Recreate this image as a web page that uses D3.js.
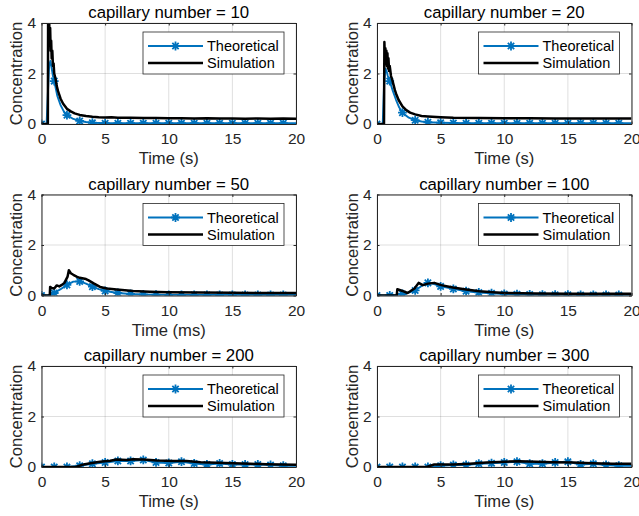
<!DOCTYPE html>
<html>
<head>
<meta charset="utf-8">
<script src="https://cdn.jsdelivr.net/npm/d3@7"></script>
<style>
  html, body { margin: 0; padding: 0; background: #ffffff; }
  svg { display: block; }
  text { font-family: "Liberation Sans", Arial, Helvetica, sans-serif; }
</style>
</head>
<body>
<svg id="chart" width="639" height="516"></svg>
<script>
// ---------------- DATA ----------------
const capillaryNumbers = [10, 20, 50, 100, 200, 300];
const xAxisLabels = ["Time (s)", "Time (s)", "Time (ms)", "Time (s)", "Time (s)", "Time (s)"];
const yAxisLabel = "Concentration";
const xTicks = [0, 5, 10, 15, 20];
const yTicks = [0, 2, 4];
const seriesNames = ["Theoretical", "Simulation"];
const markerTimes = [0,1,2,3,4,5,6,7,8,9,10,11,12,13,14,15,16,17,18,19];

// Theoretical curves [time, concentration]
const theo10 = [[0,0],[0.4,0],[0.5,1.2],[0.6,2.3],[0.7,2.5],[0.8,2.2],[0.9,1.9],[1,1.7],[1.25,1.1],[1.5,0.75],[1.75,0.5],[2,0.35],[2.5,0.2],[3,0.12],[3.5,0.08],[4,0.05],[5,0.03],[6,0.03],[7,0.03],[8,0.03],[9,0.03],[10,0.03],[11,0.03],[12,0.03],[13,0.03],[14,0.03],[15,0.03],[16,0.03],[17,0.03],[18,0.03],[19,0.03],[20,0.03]];
const theo20 = [[0,0],[0.45,0],[0.55,1.5],[0.65,2.2],[0.75,2.1],[0.85,1.9],[1,1.7],[1.25,1.3],[1.5,0.95],[1.75,0.65],[2,0.45],[2.5,0.25],[3,0.15],[3.5,0.1],[4,0.07],[5,0.05],[6,0.04],[7,0.03],[8,0.03],[9,0.03],[10,0.03],[11,0.03],[12,0.03],[13,0.03],[14,0.03],[15,0.03],[16,0.03],[17,0.03],[18,0.03],[19,0.03],[20,0.03]];
const theo50 = [[0,0],[0.5,0],[1,0.1],[1.5,0.25],[2,0.42],[2.5,0.55],[3,0.56],[3.5,0.47],[4,0.35],[4.5,0.25],[5,0.18],[6,0.1],[7,0.06],[8,0.04],[9,0.03],[10,0.02],[11,0.02],[12,0.02],[13,0.02],[14,0.02],[15,0.02],[16,0.02],[17,0.02],[18,0.02],[19,0.02],[20,0.02]];
const theo100 = [[0,0],[1,0],[1.5,0.02],[2,0.06],[2.5,0.12],[3,0.2],[3.5,0.38],[4,0.5],[4.5,0.45],[5,0.36],[6,0.26],[7,0.17],[8,0.12],[9,0.09],[10,0.06],[11,0.05],[12,0.04],[13,0.03],[14,0.03],[15,0.03],[16,0.02],[17,0.02],[18,0.02],[19,0.02],[20,0.02]];
const theo200 = [[0,0],[1,0],[2,0],[3,0.05],[4,0.13],[5,0.18],[6,0.24],[7,0.24],[8,0.28],[9,0.18],[10,0.16],[11,0.21],[12,0.14],[13,0.1],[14,0.14],[15,0.1],[16,0.1],[17,0.1],[18,0.08],[19,0.05],[20,0.05]];
const theo300 = [[0,0],[1,0],[2,0],[3,0],[4,0],[5,0.05],[6,0.08],[7,0.08],[8,0.13],[9,0.15],[10,0.18],[11,0.21],[12,0.13],[13,0.13],[14,0.18],[15,0.21],[16,0.1],[17,0.13],[18,0.08],[19,0.05],[20,0.05]];

// Simulation curves [time, concentration]
const sim10 = [[0,0],[0.5,0],[0.52,4.3],[0.56,3.6],[0.6,4.2],[0.64,3.2],[0.68,3.8],[0.72,2.9],[0.76,3.3],[0.8,2.6],[0.85,2.9],[0.9,2.3],[0.95,2.4],[1,2.0],[1.1,1.8],[1.2,1.5],[1.3,1.3],[1.4,1.15],[1.5,1.0],[1.7,0.8],[2,0.6],[2.3,0.5],[2.6,0.42],[3,0.36],[3.5,0.32],[4,0.29],[4.5,0.27],[5,0.26],[5.5,0.27],[6,0.25],[7,0.25],[8,0.24],[9,0.24],[10,0.23],[11,0.23],[12,0.22],[13,0.23],[14,0.22],[15,0.22],[16,0.21],[17,0.22],[18,0.21],[19,0.22],[20,0.21]];
const sim20 = [[0,0],[0.55,0],[0.58,3.25],[0.62,2.6],[0.66,3.0],[0.7,2.4],[0.74,2.9],[0.78,2.3],[0.82,2.8],[0.86,2.2],[0.9,2.6],[0.95,2.1],[1,2.3],[1.1,1.9],[1.2,1.75],[1.3,1.55],[1.4,1.35],[1.5,1.2],[1.7,0.95],[2,0.7],[2.3,0.55],[2.6,0.45],[3,0.38],[3.5,0.32],[4,0.3],[5,0.27],[6,0.25],[8,0.24],[10,0.23],[12,0.23],[14,0.22],[16,0.22],[18,0.22],[20,0.22]];
const sim50 = [[0,0],[0.65,0],[0.68,0.34],[0.8,0.3],[1,0.28],[1.2,0.4],[1.4,0.36],[1.6,0.42],[1.8,0.5],[1.9,0.6],[2.05,0.75],[2.15,1.0],[2.3,0.88],[2.5,0.82],[2.8,0.74],[3.0,0.7],[3.3,0.67],[3.5,0.65],[3.7,0.6],[4.1,0.48],[4.6,0.34],[5.15,0.28],[5.9,0.24],[7.2,0.18],[8.5,0.15],[9.9,0.13],[12.5,0.12],[15,0.11],[17.5,0.1],[20,0.1]];
const sim100 = [[0,0],[1.55,0],[1.6,0.25],[2,0.18],[2.4,0.1],[2.95,0.28],[3.27,0.5],[3.6,0.41],[4,0.47],[4.5,0.5],[5.05,0.41],[5.96,0.32],[7,0.24],[8.05,0.17],[9.1,0.13],[10.1,0.1],[12.5,0.08],[15.1,0.07],[17.5,0.07],[20,0.07]];
const sim200 = [[0,0],[2.7,0],[3.3,0.1],[3.85,0.15],[4.6,0.21],[5.4,0.25],[5.9,0.3],[6.7,0.28],[7.2,0.31],[8,0.3],[9.1,0.26],[10.4,0.24],[11.4,0.24],[12.5,0.19],[13.8,0.17],[15.1,0.15],[16.4,0.13],[17.7,0.11],[20,0.09]];
const sim300 = [[0,0],[3.9,0],[4.5,0.1],[6,0.1],[7.3,0.13],[8.6,0.18],[10.1,0.21],[11.2,0.23],[12.5,0.21],[13.8,0.19],[15.4,0.18],[16.9,0.15],[18.5,0.13],[20,0.13]];

const theoretical = [theo10, theo20, theo50, theo100, theo200, theo300];
const simulation = [sim10, sim20, sim50, sim100, sim200, sim300];

// ---------------- LAYOUT / STYLE ----------------
const colLeft = [41.5, 377];
const rowTop = [23, 194.5, 366];
const axW = 254.5, axH = 101;
const axisColor = "#262626";
const blue = "#0072BD";
const tickFont = 15.5, labelFont = 16.6, titleFont = 16.8, legendFont = 14.5;

const svg = d3.select("#chart");
svg.append("rect").attr("width", 639).attr("height", 516).attr("fill", "#fff");

const asterisk = (r) => {
  const d = r * 0.72;
  return `M${-r},0L${r},0M0,${-r}L0,${r}M${-d},${-d}L${d},${d}M${-d},${d}L${d},${-d}`;
};

capillaryNumbers.forEach((cn, i) => {
  const left = colLeft[i % 2], top = rowTop[Math.floor(i / 2)];
  const g = svg.append("g").attr("transform", `translate(${left},${top})`);
  const x = d3.scaleLinear().domain([0, 20]).range([0, axW]);
  const y = d3.scaleLinear().domain([0, 4]).range([axH, 0]);

  const clipId = "clip" + i;
  g.append("clipPath").attr("id", clipId).append("rect")
    .attr("x", 0).attr("y", 0).attr("width", axW).attr("height", axH);

  // grid
  const grid = g.append("g").attr("stroke", axisColor).attr("stroke-opacity", 0.15).attr("stroke-width", 1);
  xTicks.forEach(t => grid.append("line").attr("x1", x(t)).attr("x2", x(t)).attr("y1", 0).attr("y2", axH));
  yTicks.forEach(t => grid.append("line").attr("x1", 0).attr("x2", axW).attr("y1", y(t)).attr("y2", y(t)));

  // data
  const line = d3.line().x(d => x(d[0])).y(d => y(d[1]));
  const dg = g.append("g").attr("clip-path", `url(#${clipId})`);
  dg.append("path").datum(theoretical[i]).attr("d", line)
    .attr("fill", "none").attr("stroke", blue).attr("stroke-width", 1.9).attr("stroke-linejoin", "round");
  const interp = (arr, t) => {
    for (let k = 0; k < arr.length - 1; k++) {
      if (t >= arr[k][0] && t <= arr[k + 1][0]) {
        const f = (t - arr[k][0]) / ((arr[k + 1][0] - arr[k][0]) || 1);
        return arr[k][1] + f * (arr[k + 1][1] - arr[k][1]);
      }
    }
    return arr[arr.length - 1][1];
  };
  markerTimes.forEach(t => {
    dg.append("path").attr("d", asterisk(4.4))
      .attr("transform", `translate(${x(t)},${y(interp(theoretical[i], t))})`)
      .attr("fill", "none").attr("stroke", blue).attr("stroke-width", 1.8);
  });
  dg.append("path").datum(simulation[i]).attr("d", line)
    .attr("fill", "none").attr("stroke", "#000").attr("stroke-width", 2.5).attr("stroke-linejoin", "round");

  // axes (MATLAB style box with inward ticks)
  const fmt = d3.format("d");
  const xb = d3.axisBottom(x).tickValues(xTicks).tickSizeInner(-2.5).tickSizeOuter(0).tickPadding(9).tickFormat(fmt);
  const xt = d3.axisTop(x).tickValues(xTicks).tickSizeInner(-2.5).tickSizeOuter(0).tickFormat("");
  const yl = d3.axisLeft(y).tickValues(yTicks).tickSizeInner(-2.5).tickSizeOuter(0).tickPadding(5.5).tickFormat(fmt);
  const yr = d3.axisRight(y).tickValues(yTicks).tickSizeInner(-2.5).tickSizeOuter(0).tickFormat("");
  const style = sel => {
    sel.selectAll("path, line").attr("stroke", axisColor).attr("stroke-width", 1);
    sel.selectAll("text").attr("fill", axisColor).attr("font-size", tickFont)
      .attr("font-family", "Liberation Sans, Arial, sans-serif");
  };
  g.append("g").attr("transform", `translate(0,${axH})`).call(xb).call(style);
  g.append("g").call(xt).call(style);
  g.append("g").call(yl).call(style);
  g.append("g").attr("transform", `translate(${axW},0)`).call(yr).call(style);

  // labels
  g.append("text").attr("x", axW / 2).attr("y", -5).attr("text-anchor", "middle")
    .attr("font-size", titleFont).attr("fill", "#000").text(`capillary number = ${cn}`);
  g.append("text").attr("x", axW / 2).attr("y", axH + 40).attr("text-anchor", "middle")
    .attr("font-size", labelFont).attr("fill", axisColor).text(xAxisLabels[i]);
  g.append("text").attr("transform", `translate(-19.5,${axH / 2}) rotate(-90)`).attr("text-anchor", "middle")
    .attr("font-size", labelFont).attr("fill", axisColor).text(yAxisLabel);

  // legend
  const lg = g.append("g").attr("transform", `translate(${axW - 12 - 141},9)`);
  lg.append("rect").attr("width", 141).attr("height", 42)
    .attr("fill", "#fff").attr("stroke", axisColor).attr("stroke-width", 0.8);
  seriesNames.forEach((name, k) => {
    const ly = 14 + k * 17;
    lg.append("line").attr("x1", 5).attr("x2", 60).attr("y1", ly).attr("y2", ly)
      .attr("stroke", k === 0 ? blue : "#000").attr("stroke-width", k === 0 ? 1.9 : 2.5);
    if (k === 0) {
      lg.append("path").attr("d", asterisk(4.4)).attr("transform", `translate(32.5,${ly})`)
        .attr("fill", "none").attr("stroke", blue).attr("stroke-width", 1.8);
    }
    lg.append("text").attr("x", 64).attr("y", ly).attr("dy", "0.35em")
      .attr("font-size", legendFont).attr("fill", "#000").text(name);
  });
});
</script>
</body>
</html>
